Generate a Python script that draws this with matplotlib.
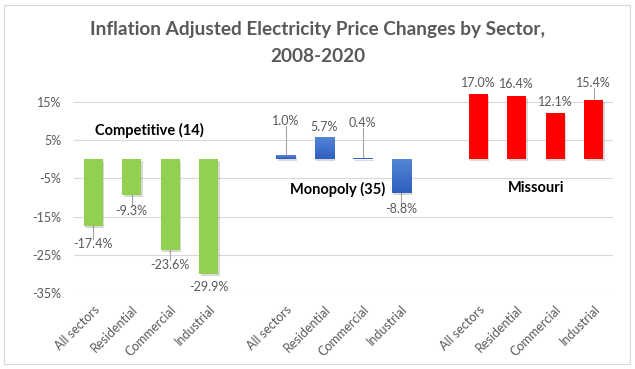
import numpy as np
import matplotlib
matplotlib.use('Agg')
import matplotlib.pyplot as plt
import matplotlib.patheffects as pe
from matplotlib.colors import LinearSegmentedColormap
from matplotlib.patches import Rectangle

plt.rcParams['font.family'] = ['Lato', 'DejaVu Sans']

# data
sectors = ['All sectors', 'Residential', 'Commercial', 'Industrial']
competitive = [-17.4, -9.3, -23.6, -29.9]
monopoly = [1.0, 5.7, 0.4, -8.8]
missouri = [17.0, 16.4, 12.1, 15.4]
groups = ['Competitive (14)', 'Monopoly (35)', 'Missouri']

# label placement (data units) - layout only
lab_y = [[-22.1, -13.6, -27.6, -33.3],
         [10.0, 8.4, 9.5, -13.0],
         [19.9, 19.6, 14.9, 19.9]]
leader = [[True, True, True, False],
          [True, False, True, True],
          [False, False, False, True]]
group_pos = [(1.45, 7.6), (6.35, -7.8), (11.5, -7.5)]

W, H = 635, 369
fig = plt.figure(figsize=(W / 100, H / 100), dpi=100)
ax = fig.add_axes([74 / W, (H - 293.3) / H, (613 - 74) / W, (293.3 - 82.6) / H])

fig.patches.append(Rectangle((4 / W, 5 / H), 626 / W, 359 / H, transform=fig.transFigure,
                             fill=False, edgecolor='#D9D9D9', linewidth=0.8))

gray = '#595959'
blue_cmap = LinearSegmentedColormap.from_list('b', ['#2E5EC0', '#5585D6'])
shadow = [pe.SimplePatchShadow(offset=(1, -1.5), alpha=0.15, shadow_rgbFace='black'), pe.Normal()]

series = [competitive, monopoly, missouri]
colors = ['#92D050', None, '#FF0000']
xticks = []
for g, vals in enumerate(series):
    xs = np.arange(4) + g * 5
    xticks.extend(xs)
    for i, (x, v) in enumerate(zip(xs, vals)):
        if g == 1:
            bar = ax.bar(x, v, width=0.5, color='#4472C4', zorder=3)[0]
            bar.set_path_effects(shadow)
            lo, hi = min(0, v), max(0, v)
            img = ax.imshow(np.linspace(0, 1, 50).reshape(-1, 1), cmap=blue_cmap,
                            extent=[x - 0.25, x + 0.25, lo, hi], aspect='auto',
                            origin='lower', zorder=3.5)
            img.set_clip_path(bar)
        else:
            bar = ax.bar(x, v, width=0.5, color=colors[g], zorder=3)[0]
            bar.set_path_effects(shadow)
        ly = lab_y[g][i]
        ax.text(x, ly, f'{v:.1f}%', ha='center', va='center', fontsize=9,
                color=gray, clip_on=False, zorder=5)
        if leader[g][i]:
            if ly > v:
                ax.plot([x, x], [v, ly - 1.3], color='#A6A6A6', lw=0.8, zorder=2)
            else:
                ax.plot([x, x], [v, ly + 1.3], color='#A6A6A6', lw=0.8, zorder=2)
    gx, gy = group_pos[g]
    ax.text(gx, gy, groups[g], ha='center', va='center', fontsize=10.5,
            fontweight='bold', color='black', zorder=5)

ax.set_xlim(-0.5, 13.5)
ax.set_ylim(-35, 20)
ax.set_yticks([15, 5, -5, -15, -25, -35])
ax.set_yticklabels(['15%', '5%', '-5%', '-15%', '-25%', '-35%'])
ax.set_xticks(xticks)
ax.set_xticklabels(sectors * 3, rotation=45, ha='right', rotation_mode='anchor')
ax.tick_params(axis='both', length=0, colors=gray, labelsize=9)
ax.tick_params(axis='y', pad=9)
ax.tick_params(axis='x', pad=7)
ax.grid(axis='y', color='#D9D9D9', linewidth=0.8, zorder=0)
ax.set_axisbelow(True)
for s in ax.spines.values():
    s.set_visible(False)

fig.text(0.5, (H - 30) / H, 'Inflation Adjusted Electricity Price Changes by Sector,',
         ha='center', va='center', fontsize=13.7, fontweight='bold', color=gray)
fig.text(0.5, (H - 57) / H, '2008-2020', ha='center', va='center', fontsize=13.7,
         fontweight='bold', color=gray)

fig.savefig('out.png', dpi=100)
